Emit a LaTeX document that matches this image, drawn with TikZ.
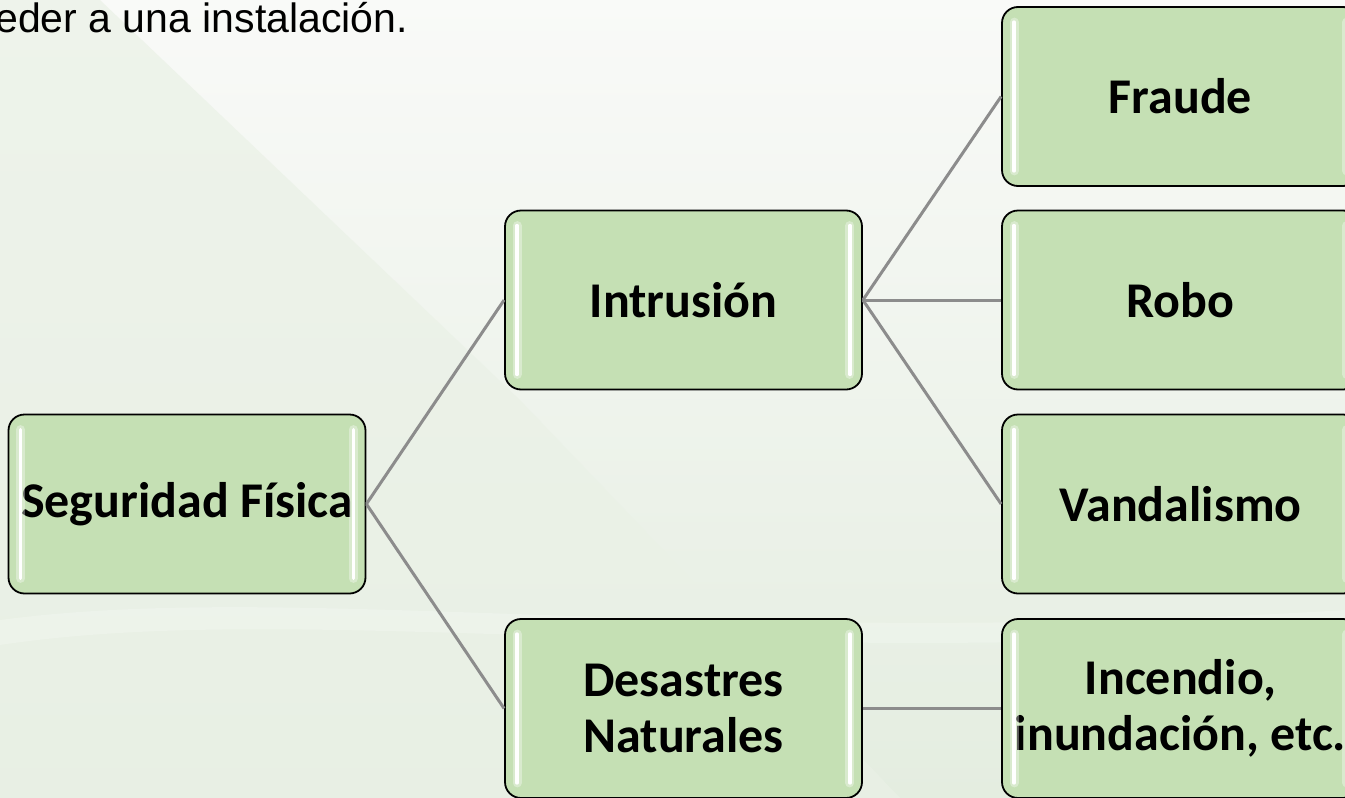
\documentclass[tikz,border=0pt]{standalone}
\usepackage{fontspec}
\setmainfont{Carlito}
\newfontfamily\arialfont{Liberation Sans}
\usetikzlibrary{positioning}
\definecolor{boxgreen}{HTML}{C5E0B4}
\definecolor{linkgray}{HTML}{8C8C8C}
\definecolor{bgtop}{HTML}{F9FAF8}
\definecolor{bgbot}{HTML}{E4EDE0}
\definecolor{bgleft}{HTML}{EAF1E6}
\tikzset{
  box/.style={draw=black, line width=1.8pt, fill=boxgreen, rounded corners=16pt,
    minimum width=357pt, minimum height=179pt, inner sep=0pt, align=center,
    font=\bfseries\fontsize{50}{56}\selectfont},
  link/.style={draw=linkgray, line width=3pt},
  gloss/.style={draw=white, line width=3.5pt, line cap=round},
  glow/.style={draw=white, line width=9pt, line cap=round, opacity=0.35}
}
\newcommand{\glossbox}[1]{%
  \draw[glow] ([xshift=13pt,yshift=-16pt]#1.north west) -- ([xshift=13pt,yshift=16pt]#1.south west);
  \draw[glow] ([xshift=-13pt,yshift=-16pt]#1.north east) -- ([xshift=-13pt,yshift=16pt]#1.south east);
  \draw[gloss] ([xshift=13pt,yshift=-16pt]#1.north west) -- ([xshift=13pt,yshift=16pt]#1.south west);
  \draw[gloss] ([xshift=-13pt,yshift=-16pt]#1.north east) -- ([xshift=-13pt,yshift=16pt]#1.south east);
}
\begin{document}
\begin{tikzpicture}[x=1pt,y=-1pt]
\useasboundingbox (0,0) rectangle (1345,798);
\clip (0,0) rectangle (1345,798);
% background
\shade[top color=bgtop, bottom color=bgbot] (0,0) rectangle (1345,798);
\fill[bgleft, opacity=0.7] (0,0) -- (100,0) -- (520,400) -- (900,798) -- (0,798) -- cycle;
\fill[white, opacity=0.2] (0,620) .. controls (300,580) and (700,650) .. (1345,610) -- (1345,630) .. controls (700,670) and (300,600) .. (0,645) -- cycle;
% title fragment
\node[anchor=base east, inner sep=0pt, font=\arialfont\fontsize{41}{48}\selectfont] (title) at (408,32) {eder a una instalación.};
% nodes
\node[box] (seg) at (187,504) {Seguridad Física};
\node[box] (intr) at (683.5,300) {Intrusión};
\node[box] (des) at (683.5,708.5) {Desastres\\Naturales};
\node[box] (fra) at (1180.5,96.5) {Fraude};
\node[box] (rob) at (1180.5,300) {Robo};
\node[box] (van) at (1180.5,504) {Vandalismo};
\node[box] (inc) at (1180.5,708.5) {Incendio,\\inundación, etc.};
\foreach \n in {seg,intr,des,fra,rob,van,inc}{\glossbox{\n}}
% connectors
\draw[link] (seg.east) -- (intr.west);
\draw[link] (seg.east) -- (des.west);
\draw[link] (intr.east) -- (fra.west);
\draw[link] (intr.east) -- (rob.west);
\draw[link] (intr.east) -- (van.west);
\draw[link] (des.east) -- (inc.west);
\end{tikzpicture}
\end{document}
